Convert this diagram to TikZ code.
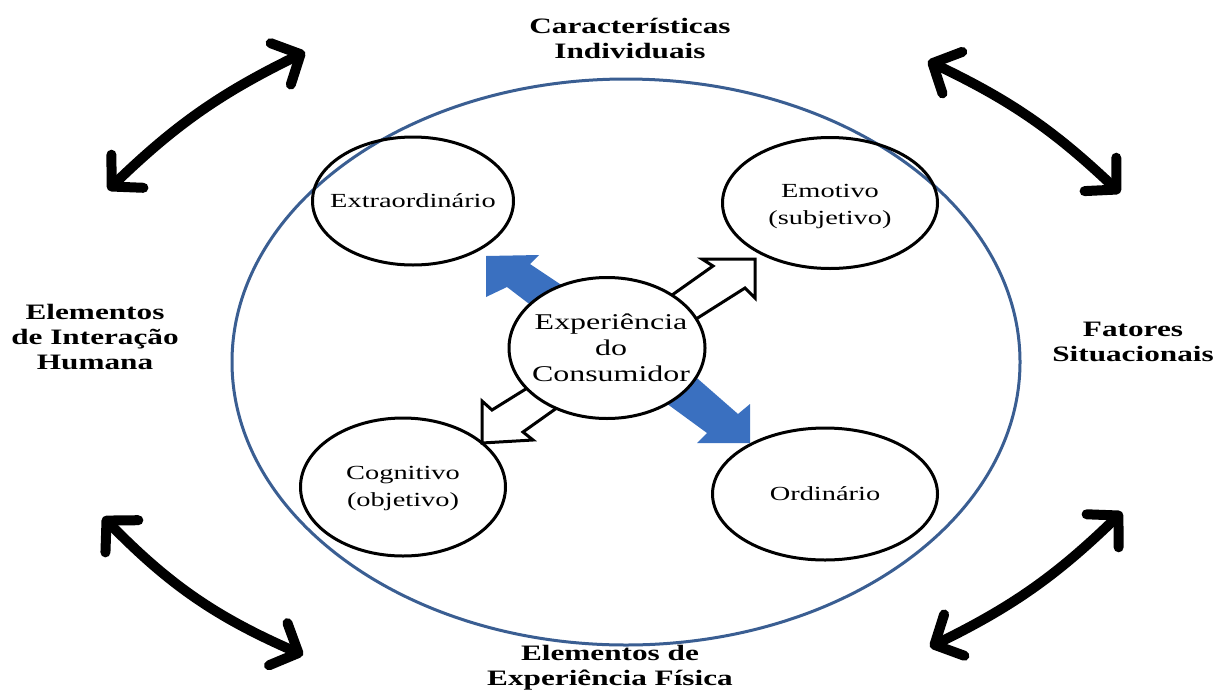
\documentclass[tikz,border=0pt]{standalone}
\usepackage{fontspec}
\setmainfont{Liberation Serif}
\newfontfamily\widefont[FakeStretch=1.42]{Liberation Serif}
\usetikzlibrary{shapes.geometric,arrows.meta}
\definecolor{ringblue}{RGB}{58,94,146}
\definecolor{flowblue}{RGB}{58,112,192}
\begin{document}
\begin{tikzpicture}[x=1pt,y=-1pt,
  bubble/.style={draw=black, line width=3pt, ellipse, inner sep=0pt},
  bubbletext/.style={font=\widefont\fontsize{20}{27}\selectfont, align=center, inner sep=0pt},
  coretext/.style={font=\widefont\fontsize{22.5}{26}\selectfont, align=center, inner sep=0pt},
  factor/.style={font=\widefont\bfseries\fontsize{22}{25}\selectfont, align=center, inner sep=0pt},
  swing/.style={line width=10pt, line cap=round,
    {Straight Barb[length=22pt,width=46pt,round]}-{Straight Barb[length=22pt,width=46pt,round]}},
  hollow/.style={draw=black, fill=white, line width=3pt, line join=miter},
  bluearrow/.style={fill=flowblue}
]
\fill[white] (0,0) rectangle (1217,691);
\useasboundingbox (0,0) rectangle (1217,691);

% outer ring
\node[draw=ringblue, line width=3pt, ellipse, minimum width=788pt, minimum height=566pt, inner sep=0pt] (ring) at (626,362) {};

% arrows from the core to the four experience types
\fill[bluearrow] (486,256) -- (539,255) -- (530,264) -- (575,294) -- (545,316) -- (507,287) -- (486,297) -- cycle;
\fill[bluearrow] (690,372) -- (738,414) -- (750,404) -- (750,443) -- (697,443) -- (707,433) -- (655,395) -- cycle;
\draw[hollow] (665,300) -- (713,266) -- (702,259) -- (755,259) -- (755,298) -- (745,288) -- (685,326);
\draw[hollow] (545,377) -- (492,410) -- (482,401) -- (482,443) -- (533,440) -- (523,432) -- (575,395);

% experience types
\node[bubble, minimum width=201pt, minimum height=128pt] (extra) at (413,201) {};
\node[bubble, minimum width=215pt, minimum height=131pt] (emot) at (830,203) {};
\node[bubble, minimum width=205pt, minimum height=138pt] (cogn) at (403,487) {};
\node[bubble, minimum width=225pt, minimum height=132pt] (ordi) at (825,494) {};
\node[bubble, fill=white, minimum width=196pt, minimum height=141pt] (core) at (607,348) {};

\node[bubbletext] (extraT) at (extra) {Extraordinário};
\node[bubbletext] (emotT) at ([yshift=-4pt]emot.center) {Emotivo\\(subjetivo)};
\node[bubbletext] (cognT) at ([yshift=-1pt]cogn.center) {Cognitivo\\(objetivo)};
\node[bubbletext] (ordiT) at (ordi) {Ordinário};
\node[coretext] (coreT) at ([xshift=4pt]core.center) {Experiência\\do\\Consumidor};

% surrounding factors
\node[factor] (indiv) at (630,38) {Características\\Individuais};
\node[factor] (human) at (95,337) {Elementos\\de Interação\\Humana};
\node[factor] (situ) at (1133,342) {Fatores\\Situacionais};
\node[factor] (phys) at (610,668) {Elementos de\\Experiência Física};

% two-way arrows between the factors
\coordinate (tlA) at (108,190);
\coordinate (tlB) at (305,52);
\coordinate (trA) at (928,61);
\coordinate (trB) at (1120,193);
\coordinate (blA) at (103,517);
\coordinate (blB) at (303,655);
\coordinate (brA) at (930,647);
\coordinate (brB) at (1122,512);
\draw[swing] (tlA) to[bend left=9] (tlB);
\draw[swing] (trA) to[bend left=9] (trB);
\draw[swing] (blA) to[bend right=11] (blB);
\draw[swing] (brA) to[bend right=9] (brB);
\end{tikzpicture}
\end{document}
